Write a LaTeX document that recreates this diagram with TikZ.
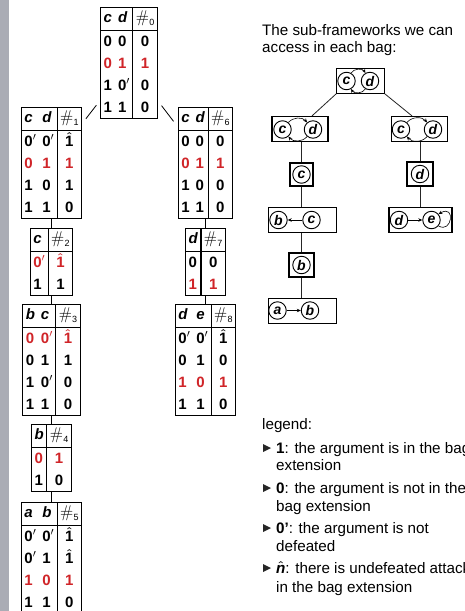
\documentclass[tikz,border=0pt]{standalone}
\usepackage{fontspec}
\setmainfont{Liberation Sans}
\usetikzlibrary{arrows.meta}
\definecolor{tred}{RGB}{208,36,40}
\definecolor{sidebar}{RGB}{170,172,181}
\newcommand{\hashsym}{{\fontfamily{lmr}\fontseries{m}\fontsize{17}{17}\selectfont\#}}
\newcommand{\bagnum}[1]{\hashsym\kern0.3pt\raisebox{-2.5pt}{\fontsize{9}{9}\fontseries{m}\selectfont #1}}
\newcommand{\hatted}[1]{\mbox{\boldmath$\hat{\mbox{#1}}$}}
\newcommand{\pr}{$'$}
\newcommand{\R}[1]{\textcolor{tred}{#1}}
\newcommand{\vi}[1]{\textit{#1}}
\setlength{\tabcolsep}{3pt}
\setlength{\arrayrulewidth}{1.2pt}
\renewcommand{\arraystretch}{1.22}
\tikzset{
  tab/.style={draw, line width=1.2pt, inner sep=0pt, anchor=north, font=\fontsize{15}{18}\selectfont\bfseries},
  tcon/.style={line width=0.8pt},
  bag/.style={draw, line width=1.2pt, inner sep=0pt},
  arg/.style={circle, draw, line width=0.9pt, inner sep=0pt, minimum size=17.5pt, font=\fontsize{14}{14}\selectfont\bfseries\itshape},
  att/.style={-{Stealth[length=4pt,width=3.5pt]}, line width=0.6pt},
  scon/.style={line width=0.8pt, draw=black!85},
  txt/.style={anchor=base west, inner sep=0pt, font=\fontsize{15.2}{18}\selectfont},
  bul/.style={fill=black!85},
}
\begin{document}
\begin{tikzpicture}[x=1pt,y=-1pt]
\useasboundingbox (0,0) rectangle (465,611);
\clip (0,0) rectangle (465,611);
\fill[white] (0,0) rectangle (465,611);
\fill[sidebar] (0,0) rectangle (9,611);

% ---------- tables ----------
\node[tab] (t0) at (129,7) {\begin{tabular}{ll|c}
\vi{c} & \vi{d} & \bagnum{0}\\\hline
0 & 0 & 0\\
\R{0} & \R{1} & \R{1}\\
1 & 0\pr & 0\\
1 & 1 & 0
\end{tabular}};
\node[tab] (t1) at (51.5,107) {\begin{tabular}{ll|c}
\vi{c} & \vi{d} & \bagnum{1}\\\hline
0\pr & 0\pr & \hatted{1}\\
\R{0} & \R{1} & \R{1}\\
1 & 0 & 1\\
1 & 1 & 0
\end{tabular}};
\node[tab] (t6) at (205.5,107) {\begin{tabular}{ll|c}
\vi{c} & \vi{d} & \bagnum{6}\\\hline
0 & 0 & 0\\
\R{0} & \R{1} & \R{1}\\
1 & 0 & 0\\
1 & 1 & 0
\end{tabular}};
\node[tab] (t2) at (51.5,228) {\begin{tabular}{l|c}
\vi{c} & \bagnum{2}\\\hline
\R{0\pr} & \R{\hatted{1}}\\
1 & 1
\end{tabular}};
\node[tab] (t7) at (205.5,228) {\begin{tabular}{l|c}
\vi{d} & \bagnum{7}\\\hline
0 & 0\\
\R{1} & \R{1}
\end{tabular}};
\node[tab] (t3) at (51.5,304) {\begin{tabular}{ll|c}
\vi{b} & \vi{c} & \bagnum{3}\\\hline
\R{0} & \R{0\pr} & \R{\hatted{1}}\\
0 & 1 & 1\\
1 & 0\pr & 0\\
1 & 1 & 0
\end{tabular}};
\node[tab] (t8) at (205.5,304) {\begin{tabular}{ll|c}
\vi{d} & \vi{e} & \bagnum{8}\\\hline
0\pr & 0\pr & \hatted{1}\\
0 & 1 & 0\\
\R{1} & \R{0} & \R{1}\\
1 & 1 & 0
\end{tabular}};
\node[tab] (t4) at (51.5,424) {\begin{tabular}{l|c}
\vi{b} & \bagnum{4}\\\hline
\R{0} & \R{1}\\
1 & 0
\end{tabular}};
\node[tab] (t5) at (51.5,502) {\begin{tabular}{ll|c}
\vi{a} & \vi{b} & \bagnum{5}\\\hline
0\pr & 0\pr & \hatted{1}\\
0\pr & 1 & \hatted{1}\\
\R{1} & \R{0} & \R{1}\\
1 & 1 & 0
\end{tabular}};

\draw[tcon, shorten <=6pt, shorten >=6pt] (t0) -- (t1);
\draw[tcon, shorten <=6pt, shorten >=7pt] (t0) -- (t6);
\draw[tcon] (t1) -- (t2);
\draw[tcon] (t2) -- (t3);
\draw[tcon] (t3) -- (t4);
\draw[tcon] (t4) -- (t5);
\draw[tcon] (t6) -- (t7);
\draw[tcon] (t7) -- (t8);

% ---------- right text ----------
\node[txt] (h1) at (262,35) {The sub-frameworks we can};
\node[txt] (h2) at (262,52) {access in each bag:};

% ---------- sub-frameworks ----------
\node[bag, minimum width=47.5pt, minimum height=24.5pt] (bT) at (360.5,81) {};
\node[arg] (Tc) at (346.5,81) {c};
\node[arg] (Td) at (370,81) {d};
\draw[att] (Tc) to[bend left=60] (Td);
\draw[att] (Td) to[bend left=60] (Tc);

\node[bag, minimum width=56pt, minimum height=25pt] (bL2) at (300,129) {};
\node[arg] (Lc) at (282.5,129.5) {c};
\node[arg] (Ld) at (313,129.5) {d};
\draw[att] (Lc) to[bend left=50] (Ld);
\draw[att] (Ld) to[bend left=50] (Lc);

\node[bag, minimum width=56pt, minimum height=25pt] (bR2) at (419.5,129) {};
\node[arg] (Rc) at (401,129.5) {c};
\node[arg] (Rd) at (433,129.5) {d};
\draw[att] (Rc) to[bend left=50] (Rd);
\draw[att] (Rd) to[bend left=50] (Rc);

\node[bag, minimum width=23pt, minimum height=23pt] (bL3) at (301.5,174.5) {};
\node[arg] (L3c) at (301.5,174.5) {c};
\node[bag, minimum width=26pt, minimum height=24pt] (bR3) at (420,174) {};
\node[arg] (R3d) at (420,174) {d};

\node[bag, minimum width=67.5pt, minimum height=25pt] (bL4) at (302.5,220) {};
\node[arg] (L4b) at (278.5,220) {b};
\node[arg] (L4c) at (311.5,220) {c};
\draw[att] (L4c) -- (L4b);

\node[bag, minimum width=63pt, minimum height=25pt] (bR4) at (420.5,220) {};
\node[arg] (R4d) at (399,220) {d};
\node[arg] (R4e) at (431.5,220) {e};
\draw[att] (R4d) -- (R4e);
\draw[att] (R4e.-40) .. controls (452,234) and (456,204) .. (R4e.40);

\node[bag, minimum width=25pt, minimum height=24pt] (bL5) at (301.5,265) {};
\node[arg] (L5b) at (301.5,265) {b};

\node[bag, minimum width=67.5pt, minimum height=25pt] (bL6) at (302.5,311) {};
\node[arg] (L6a) at (277.5,310.5) {a};
\node[arg] (L6b) at (310,310.5) {b};
\draw[att] (L6a) -- (L6b);

\draw[scon] (bT.south west) -- ([xshift=12pt]bL2.north);
\draw[scon] (bT.south east) -- ([xshift=-7.5pt]bR2.north);
\draw[scon] (bL3.north) -- (bL3.north |- bL2.south);
\draw[scon] (bL4.north -| bL3) -- (bL3.south);
\draw[scon] (bL5.north) -- (bL5.north |- bL4.south);
\draw[scon] (bL6.north -| bL5) -- (bL5.south);
\draw[scon] (bR3.north) -- (bR3.north |- bR2.south);
\draw[scon] (bR4.north -| bR3) -- (bR3.south);

% ---------- legend ----------
\node[txt] (lg) at (262,429) {legend:};
\node[txt] (l1a) at (276,453) {\textbf{1}: the argument is in the bag};
\node[txt] (l1b) at (276,470) {extension};
\node[txt] (l2a) at (276,493) {\textbf{0}: the argument is not in the};
\node[txt] (l2b) at (276,511) {bag extension};
\node[txt] (l3a) at (276,533) {\textbf{0'}: the argument is not};
\node[txt] (l3b) at (276,551) {defeated};
\node[txt] (l4a) at (276,573) {\hatted{\bfseries\itshape n}: there is undefeated attack};
\node[txt] (l4b) at (276,592) {in the bag extension};
\foreach \yy in {448,488,528,568} {
  \fill[bul] (263,\yy-4) -- (271,\yy) -- (263,\yy+4) -- cycle;
}
\end{tikzpicture}
\end{document}
